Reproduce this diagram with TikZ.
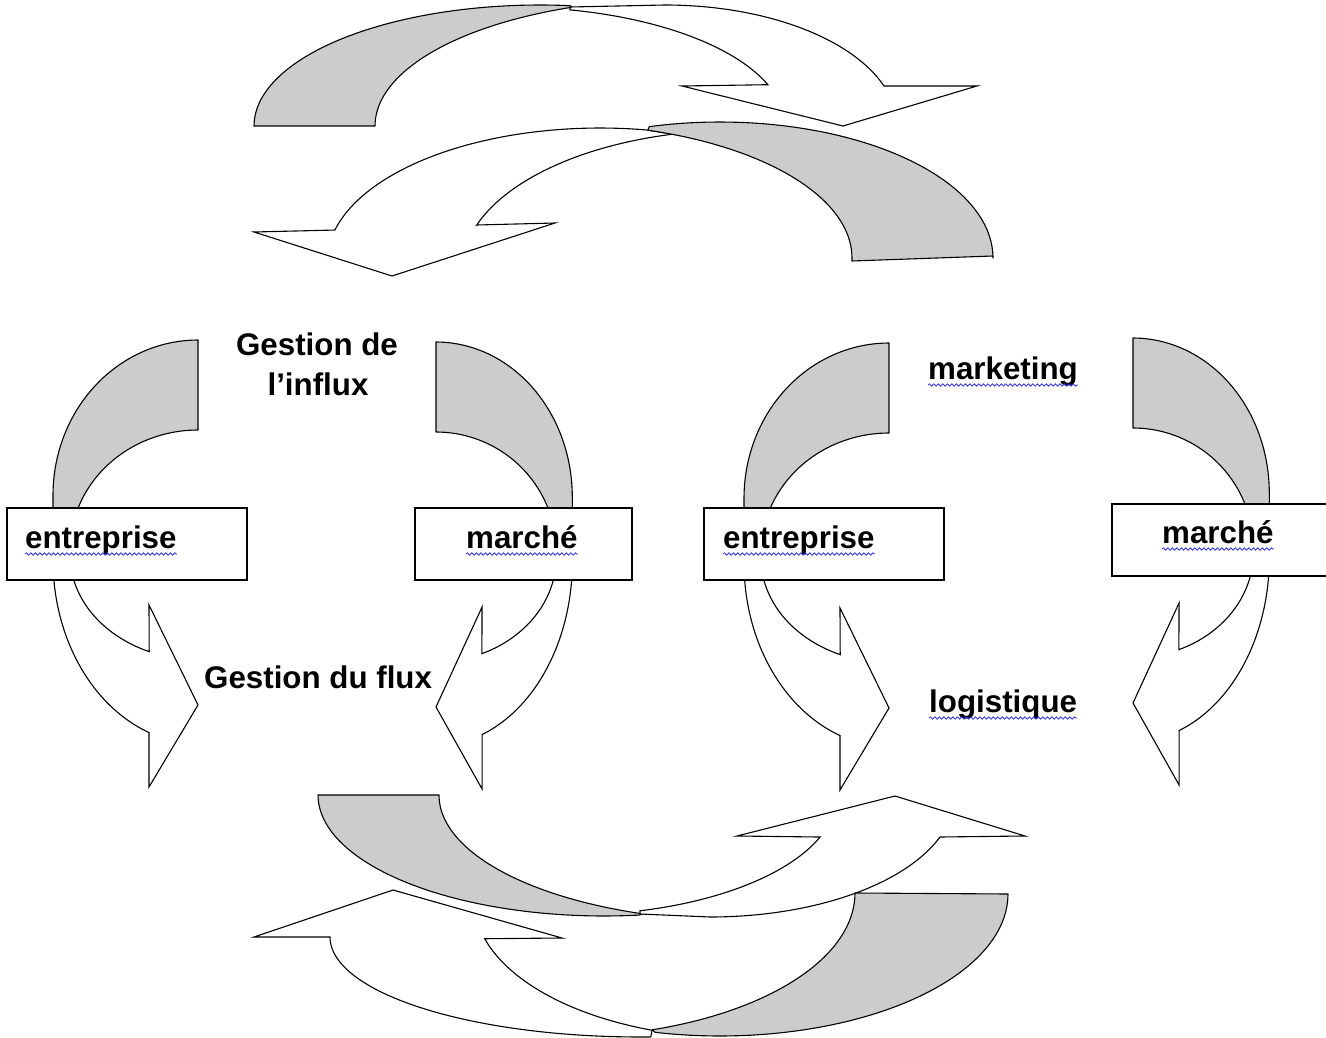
\documentclass[tikz,border=0pt]{standalone}
\usepackage{fontspec}
\setmainfont{Liberation Sans}
\usetikzlibrary{decorations.pathmorphing}
\definecolor{bandgray}{RGB}{204,204,204}
\definecolor{spellblue}{RGB}{50,50,230}
% elliptic arc joined by a line: centre (#1,#2), radii #3,#4, angles #5 -> #6 (y axis points down)
\tikzset{earc/.style n args={6}{insert path={-- plot[domain=#5:#6, samples=45, variable=\t] ({#1+#3*cos(\t)}, {#2-#4*sin(\t)})}}}
% curved side arrow in local coordinates (origin = top of the back foot)
\newcommand\sidearrow{%
  \path[band] (0,0) -- (0,90) [earc={0}{210}{128}{120}{90}{180}] -- (-145,210) [earc={0}{155}{145}{155}{180}{90}] -- cycle;
  \path[front] (-145,210) [earc={2}{220}{147}{184}{180}{249.7}] -- (-49,447) -- (0,365) -- (-49,265) [earc={2}{215}{130}{105}{247}{180}] -- cycle;
}
\begin{document}
\begin{tikzpicture}[x=1pt,y=-1pt,
  band/.style={fill=bandgray, draw=black, line width=1.1pt, line join=round},
  front/.style={fill=white, draw=black, line width=1.1pt, line join=miter},
  box/.style={draw=black, fill=white, line width=1.4pt, minimum width=#1, minimum height=72pt, inner sep=0pt},
  lbl/.style={font=\bfseries\fontsize{31.3}{38}\selectfont, inner sep=0pt},
  wavy/.style={draw=spellblue, line width=0.8pt, decorate, decoration={snake, amplitude=1.2pt, segment length=4.5pt}}
]
\useasboundingbox (0,0) rectangle (1326,1038);

% ---- top arrow 1 (pointing down, right)
\path[band] (254,126) -- (375,126) [earc={680}{126}{305}{127}{180}{110.7}] [earc={540}{126}{286}{121}{84}{180}] -- cycle;
\path[front] (570,7) [earc={510}{126}{275}{119}{77.4}{20.3}] -- (682,86) -- (843,126) -- (977,86) -- (884,86) [earc={665}{126}{232}{121}{19.3}{90}] -- cycle;

% ---- top arrow 2 (pointing down, left)
\path[front] (647,130) [earc={600}{262}{273}{134}{80}{166.2}] -- (254,232) -- (392,276) -- (555,223) -- (477,225) [earc={740}{270}{278}{140}{161.3}{104}] -- cycle;
\path[band] (852,261) -- (993,256) [earc={720}{258}{273}{136}{0}{105}] [earc={560}{258}{292}{134}{72.5}{0}] -- cycle;

% ---- side arrows
\begin{scope}[shift={(198,340)}] \sidearrow \end{scope}
\begin{scope}[shift={(436,342)}, xscale=-0.94] \sidearrow \end{scope}
\begin{scope}[shift={(889,343)}] \sidearrow \end{scope}
\begin{scope}[shift={(1133,338)}, xscale=-0.94] \sidearrow \end{scope}

% ---- boxes
\node[box=240pt] (b1) at (127,544) {};
\node[box=217pt] (b2) at (523.5,544) {};
\node[box=240pt] (b3) at (824,544) {};
\node[box=223pt] (b4) at (1223.5,540) {};

% ---- bottom arrow 3 (pointing up, right)
\path[band] (318,795) -- (439,795) [earc={744}{795}{305}{126}{180}{250.7}] [earc={604}{795}{286}{121}{277}{180}] -- cycle;
\path[front] (640,914) [earc={570}{795}{267}{120}{285.2}{339.5}] -- (737,836) -- (895,796) -- (1025,836) -- (940,837) [earc={710}{795}{245}{122}{339.9}{270}] -- cycle;

% ---- bottom arrow 4 (pointing up, left)
\path[front] (330,937) [earc={640}{937}{310}{100}{180}{272}] [earc={740}{900}{266}{138}{250.7}{196.3}] -- (562,938) -- (393,890) -- (254,937) -- cycle;
\path[band] (855,893) -- (1008,894) [earc={720}{894}{288}{142}{360}{257}] [earc={560}{893}{295}{144}{288.2}{360}] -- cycle;

% ---- texts
\node[lbl, anchor=base] (g1) at (317,355) {Gestion de};
\node[lbl, anchor=base] (g2) at (318,395) {l’influx};
\node[lbl, anchor=base west] (g3) at (204,688) {Gestion du flux};
\node[lbl, anchor=base west] (mk) at (928,379) {marketing};
\node[lbl, anchor=base west] (lg) at (929,712) {logistique};
\node[lbl, anchor=base west] (e1) at (25,548) {entreprise};
\node[lbl, anchor=base west] (m1) at (466,548) {marché};
\node[lbl, anchor=base west] (e2) at (723,548) {entreprise};
\node[lbl, anchor=base west] (m2) at (1162,543) {marché};

% ---- spell-check underlines
\foreach \n in {e1,m1,e2,m2,mk,lg}{
  \draw[wavy] ([yshift=-6pt]\n.base west) -- ([yshift=-6pt]\n.base east);
}
\end{tikzpicture}
\end{document}
